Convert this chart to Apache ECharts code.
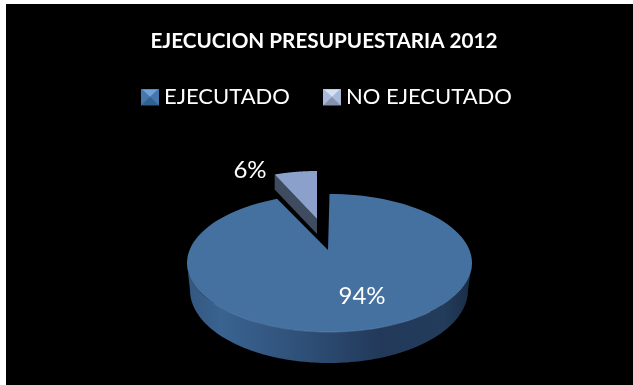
<!DOCTYPE html>
<html>
<head>
<meta charset="utf-8">
<style>
  html, body { margin: 0; padding: 0; background: #fff; }
  #chart { width: 633px; height: 385px; }
</style>
<script src="https://cdn.jsdelivr.net/npm/echarts@6/dist/echarts.min.js"></script>
</head>
<body>
<div id="chart"></div>
<script>
const titleText = 'EJECUCION PRESUPUESTARIA 2012';
const categories = ['EJECUTADO', 'NO EJECUTADO'];
const percents = [94, 6];

const FONT = 'Lato, "Open Sans", sans-serif';

// bevelled square used as legend marker
function bevelIcon(top, left, right, bottom) {
  const svg = '<svg xmlns="http://www.w3.org/2000/svg" width="18" height="17">' +
    '<rect width="18" height="17" fill="' + left + '"/>' +
    '<polygon points="1,1 17,1 9,8.5" fill="' + top + '"/>' +
    '<polygon points="0,0 9,8.5 0,17" fill="' + left + '"/>' +
    '<polygon points="18,0 9,8.5 18,17" fill="' + right + '"/>' +
    '<polygon points="0,17 9,8.5 18,17" fill="' + bottom + '"/>' +
    '</svg>';
  return 'image://data:image/svg+xml;charset=utf-8,' + encodeURIComponent(svg);
}

// t runs clockwise from 12 o'clock, in radians
function ellipsePoint(e, t) {
  return [e.cx + e.rx * Math.sin(t), e.cy - e.ry * Math.cos(t)];
}

function arc(e, from, to) {
  const pts = [];
  const steps = 120;
  for (let i = 0; i <= steps; i++) {
    pts.push(ellipsePoint(e, from + (to - from) * i / steps));
  }
  return pts;
}

const bigTop = { cx: 329.5, cy: 263, rx: 142.5, ry: 69 };
const bigBottom = { cx: 329, cy: 290, rx: 139, ry: 73 };
const bigApex = [328, 250];

const smallTop = { cx: 317, cy: 221, rx: 115, ry: 50 };
const smallApex = [317, 219];
const smallDepth = 15;

function sweep(value) {
  return value / percents.reduce((a, b) => a + b, 0) * Math.PI * 2;
}

function renderBig(params, api) {
  const end = sweep(api.value(0));
  const sideFrom = Math.PI * 0.5;
  const sideTo = Math.PI * 1.5;
  const sideTopEdge = arc(bigTop, sideFrom, sideTo);
  const sideBottomEdge = arc(bigBottom, sideTo, sideFrom);
  return {
    type: 'group',
    children: [
      {
        type: 'polygon',
        shape: { points: sideTopEdge.concat(sideBottomEdge) },
        style: {
          fill: new echarts.graphic.LinearGradient(0, 0, 1, 0, [
            { offset: 0, color: '#33577f' },
            { offset: 0.12, color: '#3a6391' },
            { offset: 0.4, color: '#2f5078' },
            { offset: 0.68, color: '#22395a' },
            { offset: 0.9, color: '#233c5c' },
            { offset: 1, color: '#1a2c46' }
          ])
        }
      },
      {
        type: 'polygon',
        shape: { points: [bigApex].concat(arc(bigTop, 0, end)) },
        style: { fill: '#44719f' }
      },
      {
        type: 'polyline',
        shape: { points: arc(bigTop, Math.PI * 0.75, Math.PI * 1.3) },
        style: { fill: null, stroke: '#6f95bf', lineWidth: 1, opacity: 0.5 }
      },
      {
        type: 'text',
        style: {
          text: api.value(0) + '%', x: 362, y: 296, align: 'center', verticalAlign: 'middle',
          fill: '#fff', font: '24px ' + FONT
        }
      }
    ]
  };
}

function renderSmall(params, api) {
  const start = Math.PI * 2 - sweep(api.value(0));
  const outer = ellipsePoint(smallTop, start);
  return {
    type: 'group',
    children: [
      {
        type: 'polygon',
        shape: {
          points: [outer, smallApex, [smallApex[0], smallApex[1] + smallDepth], [outer[0], outer[1] + smallDepth]]
        },
        style: { fill: '#3f4c60' }
      },
      {
        type: 'polygon',
        shape: { points: [smallApex].concat(arc(smallTop, start, Math.PI * 2)) },
        style: { fill: '#8ba0cb' }
      },
      {
        type: 'text',
        style: {
          text: api.value(0) + '%', x: 250, y: 170, align: 'center', verticalAlign: 'middle',
          fill: '#fff', font: '24px ' + FONT
        }
      }
    ]
  };
}

const chart = echarts.init(document.getElementById('chart'), null, { renderer: 'canvas' });

chart.setOption({
  animation: false,
  backgroundColor: '#fff',
  graphic: [
    { type: 'rect', z: -10, shape: { x: 6, y: 4, width: 627, height: 381 }, style: { fill: '#000' } }
  ],
  title: {
    text: titleText,
    left: 319,
    top: 26,
    textAlign: 'center',
    textStyle: { color: '#fff', fontFamily: FONT, fontWeight: 'bold', fontSize: 20.7 }
  },
  legend: {
    left: 136,
    top: 81,
    itemWidth: 18,
    itemHeight: 17,
    itemGap: 33,
    data: [
      { name: categories[0], icon: bevelIcon('#6fa2da', '#4676ac', '#4676ac', '#33608f') },
      { name: categories[1], icon: bevelIcon('#d5e0f3', '#a9b9da', '#a9b9da', '#8592ae') }
    ],
    textStyle: { color: '#fff', fontFamily: FONT, fontSize: 22 }
  },
  series: [
    {
      type: 'custom',
      name: categories[0],
      coordinateSystem: 'none',
      itemStyle: { color: '#44719f' },
      renderItem: renderBig,
      data: [[percents[0]]],
      silent: true
    },
    {
      type: 'custom',
      name: categories[1],
      coordinateSystem: 'none',
      itemStyle: { color: '#8ba0cb' },
      renderItem: renderSmall,
      data: [[percents[1]]],
      silent: true
    }
  ]
});

window.addEventListener('resize', () => chart.resize());
</script>
</body>
</html>
